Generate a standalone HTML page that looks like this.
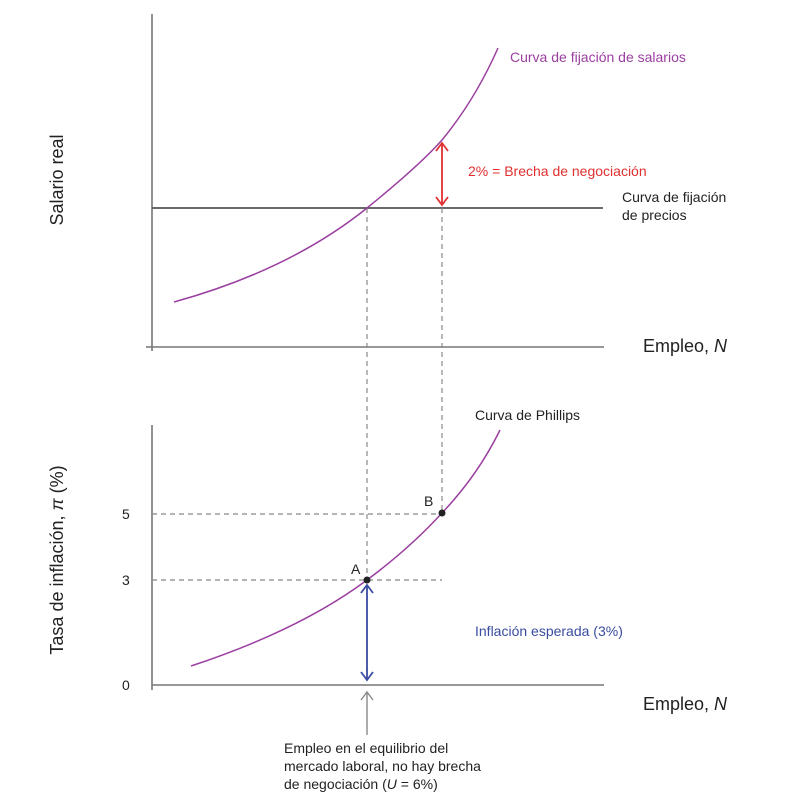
<!DOCTYPE html>
<html><head><meta charset="utf-8"><style>body{margin:0;background:#fff}svg{display:block;font-family:"Liberation Sans",sans-serif}</style></head><body>
<svg width="810" height="812" viewBox="0 0 810 812" xmlns="http://www.w3.org/2000/svg">
<g stroke="#777" stroke-width="1.6" fill="none">
<line x1="152" y1="14" x2="152" y2="351"/>
<line x1="146" y1="347" x2="604" y2="347"/>
<line x1="152" y1="425" x2="152" y2="690"/>
<line x1="152" y1="685" x2="604" y2="685"/>
</g>
<line x1="152" y1="208" x2="603" y2="208" stroke="#555" stroke-width="1.8"/>
<g stroke="#888" stroke-width="1.2" stroke-dasharray="5,4" fill="none">
<line x1="367" y1="208" x2="367" y2="685"/>
<line x1="442" y1="208" x2="442" y2="514"/>
<line x1="152" y1="514" x2="442" y2="514"/>
<line x1="152" y1="580" x2="442" y2="580"/>
</g>
<path d="M174,302 Q290,270 367,208 Q420,165 442,140 Q475,100 498,48" stroke="#9b3fa0" stroke-width="1.5" fill="none"/>
<path d="M191,666 Q300,630 367,580 Q410,548 442,513 Q478,475 500,430" stroke="#9b3fa0" stroke-width="1.5" fill="none"/>
<g stroke="#e03030" stroke-width="1.8" fill="none">
<line x1="442" y1="143" x2="442" y2="205"/>
<polyline points="436,151 442,143 448,151"/><polyline points="436,197 442,205 448,197"/>
</g>
<g stroke="#3a4ca0" stroke-width="1.8" fill="none">
<line x1="367" y1="585" x2="367" y2="680"/>
<polyline points="361,593 367,585 373,593"/><polyline points="361,672 367,680 373,672"/>
</g>
<g stroke="#888" stroke-width="1.4" fill="none">
<line x1="367" y1="692" x2="367" y2="735"/>
<polyline points="361,700 367,692 373,700"/>
</g>
<circle cx="367" cy="580" r="3.5" fill="#222"/><circle cx="442" cy="513" r="3.5" fill="#222"/>
<g font-size="14" fill="#222">
<text x="510" y="62" fill="#9b3fa0">Curva de fijación de salarios</text>
<text x="468" y="176" fill="#e03030">2% = Brecha de negociación</text>
<text x="622" y="202">Curva de fijación</text>
<text x="622" y="220">de precios</text>
<text x="475" y="420">Curva de Phillips</text>
<text x="424" y="506">B</text>
<text x="351" y="574">A</text>
<text x="475" y="636" fill="#3a4ca0">Inflación esperada (3%)</text>
<text x="122" y="519">5</text><text x="122" y="585">3</text><text x="122" y="690">0</text>
<text x="284" y="753">Empleo en el equilibrio del</text>
<text x="284" y="771">mercado laboral, no hay brecha</text>
<text x="284" y="789">de negociación (<tspan font-style="italic">U</tspan> = 6%)</text>
</g>
<g font-size="18" fill="#222">
<text x="643" y="352">Empleo, <tspan font-style="italic">N</tspan></text>
<text x="643" y="710">Empleo, <tspan font-style="italic">N</tspan></text>
<text transform="translate(63,180) rotate(-90)" text-anchor="middle">Salario real</text>
<text transform="translate(63,560) rotate(-90)" text-anchor="middle">Tasa de inflación, <tspan font-style="italic">π</tspan> (%)</text>
</g>
</svg>
</body></html>
